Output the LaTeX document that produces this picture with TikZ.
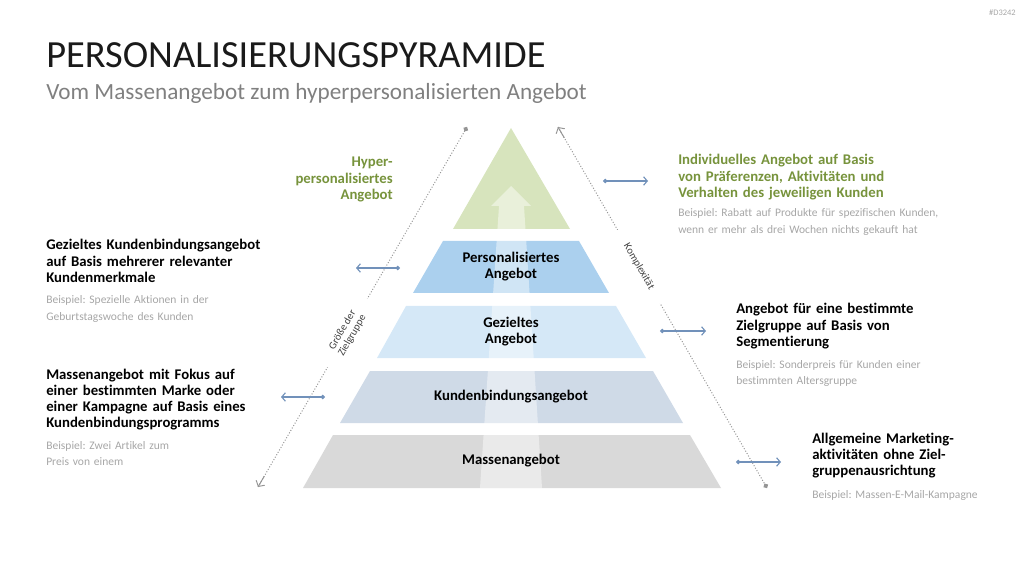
\documentclass[tikz,border=0pt]{standalone}
\usepackage{fontspec}
\setmainfont{Carlito}[Ligatures=NoCommon]
\usetikzlibrary{arrows.meta}
\frenchspacing

\definecolor{gruen}{HTML}{D7E4BD}
\definecolor{blaudunkel}{HTML}{ABD0EE}
\definecolor{blauhell}{HTML}{D5E8F7}
\definecolor{graublau}{HTML}{CFDAE7}
\definecolor{grau}{HTML}{D9D9D9}
\definecolor{textgruen}{HTML}{77933C}
\definecolor{pfeilblau}{HTML}{7191BA}
\definecolor{liniengrau}{HTML}{A6A6A6}
\definecolor{titelgrau}{HTML}{1A1A1A}
\definecolor{untertitelgrau}{HTML}{808080}
\definecolor{achsgrau}{HTML}{404040}

\begin{document}
\begin{tikzpicture}[x=0.025cm, y=-0.025cm,
    fett/.style={anchor=base west, text width=7cm, align=left, inner sep=0pt,
        font=\fontsize{10.5}{11.4}\selectfont\bfseries},
    beispiel/.style={anchor=base west, text width=8cm, align=left, inner sep=0pt,
        text=liniengrau, font=\fontsize{8.2}{11.4}\selectfont},
    stufe/.style={align=center, inner sep=0pt, font=\fontsize{10.5}{11.4}\selectfont\bfseries},
    pfeil/.style={draw=pfeilblau, line width=0.8pt,
        {Circle[length=3.2pt]}-{Straight Barb[length=2.6pt,width=6pt]}},
    achse/.style={draw=liniengrau!90!black, dash pattern=on 0.7pt off 1.3pt, line width=0.7pt},
    achsspitze/.style={draw=liniengrau!90!black, solid, line width=0.7pt,
        -{Straight Barb[length=3pt,width=7pt]}},
    achslabel/.style={sloped, fill=white, inner xsep=12pt, inner ysep=1pt, align=center,
        text=achsgrau, font=\fontsize{7.5}{8}\selectfont}]

    \useasboundingbox (0,0) rectangle (1024,576);

    % Kennung
    \node[anchor=base east, inner sep=0pt, text=liniengrau, font=\fontsize{6}{7}\selectfont] (kennung) at (1016,16) {\#D3242};

    % Titel
    \node[anchor=base west, inner sep=0pt, text=titelgrau, font=\fontsize{27.3}{30}\selectfont] (titel) at (46,68) {PERSONALISIERUNGSPYRAMIDE};
    \node[anchor=base west, inner sep=0pt, text=untertitelgrau, font=\fontsize{16.5}{20}\selectfont] (untertitel) at (46,100) {Vom Massenangebot zum hyperpersonalisierten Angebot};

    % Pyramide
    \fill[gruen] (511,128) -- (570,229) -- (453,229) -- cycle;
    \fill[blaudunkel] (443,241) -- (579,241) -- (609,293) -- (413,293) -- cycle;
    \fill[blauhell] (406,306) -- (616,306) -- (646,358) -- (377,358) -- cycle;
    \fill[graublau] (370,371) -- (653,371) -- (683,423) -- (340,423) -- cycle;
    \fill[grau] (333,435) -- (690,435) -- (721,488) -- (303,488) -- cycle;

    % Heller Pfeil durch die Pyramide
    \fill[white, opacity=0.45] (511,186) -- (531,206) -- (524,206) -- (542,488)
        -- (480,488) -- (499,206) -- (491,206) -- cycle;

    % Stufen
    \node[stufe] (personalisiert) at (511,267) {Personalisiertes\\Angebot};
    \node[stufe] (gezielt) at (511,332) {Gezieltes\\Angebot};
    \node[stufe] (kundenbindung) at (511,397) {Kundenbindungsangebot};
    \node[stufe] (masse) at (511,461) {Massenangebot};

    % Spitze
    \node[fett, anchor=base east, align=right, text width=3cm, text=textgruen] (hyper) at (393,167) {Hyper-\\personalisiertes\\Angebot};

    % Achse links (Größe der Zielgruppe)
    \coordinate (lo) at (467,127);
    \coordinate (lu) at (258,487);
    \draw[achse, {Circle[length=3.5pt]}-] (lo)
        -- node[pos=0.572, achslabel] (groesse) {Größe der\\Zielgruppe} (lu);
    \path (lo) -- (lu) coordinate[pos=0.97] (lu0);
    \draw[achsspitze] (lu0) -- (lu);

    % Achse rechts (Komplexität)
    \coordinate (ro) at (558,127);
    \coordinate (ru) at (767,488);
    \draw[achse, -{Circle[length=3.5pt]}] (ro)
        -- node[pos=0.387, achslabel] (komplex) {Komplexität} (ru);
    \path (ru) -- (ro) coordinate[pos=0.97] (ro0);
    \draw[achsspitze] (ro0) -- (ro);

    % Pfeile zu den Beschreibungen
    \foreach \n/\xa/\xb/\y in {1/603/648/181, 2/400/356/268, 3/660/706/331, 4/325/281/397, 5/736/781/462}{
        \coordinate (s\n) at (\xa,\y);
        \coordinate (e\n) at (\xb,\y);
        \draw[pfeil] (s\n) -- (e\n);
    }

    % Beschreibung hyperpersonalisiert
    \node[fett, text=textgruen] (b1) at (678,165) {Individuelles Angebot auf Basis\\von Präferenzen, Aktivitäten und\\Verhalten des jeweiligen Kunden};
    \node[beispiel] (bsp1) at (678,217) {Beispiel: Rabatt auf Produkte für spezifischen Kunden,\\wenn er mehr als drei Wochen nichts gekauft hat};

    % Beschreibung personalisiert
    \node[fett] (b2) at (46,250) {Gezieltes Kundenbindungsangebot\\auf Basis mehrerer relevanter\\Kundenmerkmale};
    \node[beispiel] (bsp2) at (46,304) {Beispiel: Spezielle Aktionen in der\\Geburtstagswoche des Kunden};

    % Beschreibung gezielt
    \node[fett] (b3) at (736,314) {Angebot für eine bestimmte\\Zielgruppe auf Basis von\\Segmentierung};
    \node[beispiel] (bsp3) at (736,368) {Beispiel: Sonderpreis für Kunden einer\\bestimmten Altersgruppe};

    % Beschreibung Kundenbindung
    \node[fett] (b4) at (46,379) {Massenangebot mit Fokus auf\\einer bestimmten Marke oder\\einer Kampagne auf Basis eines\\Kundenbindungsprogramms};
    \node[beispiel] (bsp4) at (46,449) {Beispiel: Zwei Artikel zum\\Preis von einem};

    % Beschreibung Masse
    \node[fett] (b5) at (812,443) {Allgemeine Marketing-\\aktivitäten ohne Ziel-\\gruppenausrichtung};
    \node[beispiel] (bsp5) at (812,498) {Beispiel: Massen-E-Mail-Kampagne};

\end{tikzpicture}
\end{document}
